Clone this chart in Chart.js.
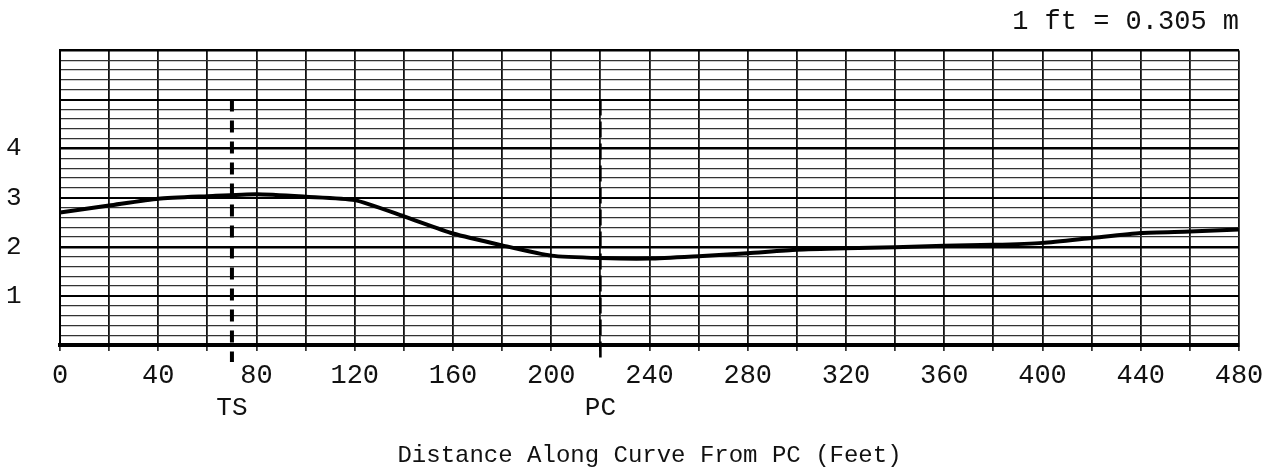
<!DOCTYPE html>
<html>
<head>
<meta charset="utf-8">
<title>Superelevation profile</title>
<script src="https://cdn.jsdelivr.net/npm/chart.js@4.4.0/dist/chart.umd.min.js"></script>
<style>
    html, body { margin: 0; padding: 0; background: #fff; }
    #wrap { width: 1274px; height: 476px; }
</style>
</head>
<body>
<div id="wrap"><canvas id="profileChart" width="1274" height="476"></canvas></div>
<script>
// ============================================
// DATA
// ============================================
const stations = [0, 20, 40, 60, 80, 100, 120, 140, 160, 180, 200, 220, 240,
                  260, 280, 300, 320, 340, 360, 380, 400, 420, 440, 460, 480];
const profile = [2.70, 2.84, 2.98, 3.03, 3.07, 3.02, 2.95, 2.62, 2.27, 2.03, 1.82, 1.77, 1.76,
                 1.81, 1.87, 1.94, 1.97, 1.99, 2.02, 2.04, 2.08, 2.18, 2.28, 2.31, 2.35];
const xLabelTicks = [0, 40, 80, 120, 160, 200, 240, 280, 320, 360, 400, 440, 480];
const yLabelTicks = [1, 2, 3, 4];
const markerNames = ['TS', 'PC'];
const markerStations = [70, 220];
const markerTop = 5;

const MONO = '"Liberation Mono", "DejaVu Sans Mono", monospace';

// ============================================
// PLUGIN: TS / PC station markers
// ============================================
const stationMarkers = {
    id: 'stationMarkers',
    afterDatasetsDraw(chart) {
        const { ctx, scales: { x, y } } = chart;
        const yTop = y.getPixelForValue(markerTop);
        const yBottom = y.getPixelForValue(0) + 17;

        markerStations.forEach((st, i) => {
            const px = x.getPixelForValue(st);
            ctx.save();
            ctx.strokeStyle = '#000';
            if (i === 0) {
                ctx.lineWidth = 4;
                ctx.setLineDash([12, 9]);
            } else {
                ctx.lineWidth = 2.6;
                ctx.setLineDash([16, 6]);
            }
            ctx.beginPath();
            ctx.moveTo(px, yTop);
            ctx.lineTo(px, yBottom);
            ctx.stroke();
            ctx.restore();

            ctx.save();
            ctx.fillStyle = '#111';
            ctx.font = '26px ' + MONO;
            ctx.textAlign = 'center';
            ctx.textBaseline = 'middle';
            ctx.fillText(markerNames[i], px, 408);
            ctx.restore();
        });
    }
};

// ============================================
// CHART
// ============================================
function gridWidth(value) {
    const v = Math.round(value * 10) / 10;
    if (v === 0) return 0;
    if (Number.isInteger(v)) return v % 2 === 0 ? 2.6 : 2.0;
    return 1.3;
}

const ctx = document.getElementById('profileChart');

new Chart(ctx, {
    type: 'line',
    data: {
        datasets: [{
            data: stations.map((s, i) => ({ x: s, y: profile[i] })),
            borderColor: '#000',
            borderWidth: 4,
            pointRadius: 0,
            tension: 0.2,
            fill: false
        }]
    },
    options: {
        responsive: false,
        animation: false,
        layout: { padding: { left: 6, right: 35, top: 0, bottom: 0 } },
        plugins: {
            legend: { display: false },
            tooltip: { enabled: false },
            title: {
                display: true,
                text: '1 ft = 0.305 m',
                align: 'end',
                color: '#111',
                font: { family: MONO, size: 27, weight: 'normal' },
                padding: { top: 6, bottom: 12 }
            }
        },
        scales: {
            x: {
                type: 'linear',
                min: 0,
                max: 480,
                afterFit: scale => { scale.height = 131; },
                border: { display: true, color: '#000', width: 4 },
                grid: {
                    color: '#111',
                    lineWidth: 1.8,
                    drawTicks: true,
                    tickLength: 6,
                    tickColor: '#111',
                    tickWidth: 1.5
                },
                ticks: {
                    stepSize: 20,
                    autoSkip: false,
                    maxRotation: 0,
                    padding: 9,
                    color: '#111',
                    font: { family: MONO, size: 27 },
                    callback: value => xLabelTicks.includes(value) ? String(value) : ''
                },
                title: {
                    display: true,
                    text: 'Distance Along Curve From PC (Feet)',
                    color: '#111',
                    font: { family: MONO, size: 24 },
                    padding: { top: 0, bottom: 6 }
                }
            },
            y: {
                min: 0,
                max: 6,
                afterFit: scale => { scale.width = 54; },
                border: { display: true, color: '#000', width: 2 },
                grid: {
                    color: ctx => Number.isInteger(Math.round(ctx.tick.value * 10) / 10) ? '#000' : '#333',
                    lineWidth: ctx => gridWidth(ctx.tick.value),
                    drawTicks: false
                },
                ticks: {
                    stepSize: 0.2,
                    autoSkip: false,
                    crossAlign: 'far',
                    padding: 0,
                    color: '#111',
                    font: { family: MONO, size: 26 },
                    callback: value => {
                        const v = Math.round(value * 10) / 10;
                        return yLabelTicks.includes(v) ? String(v) : '';
                    }
                }
            }
        }
    },
    plugins: [stationMarkers]
});
</script>
</body>
</html>
